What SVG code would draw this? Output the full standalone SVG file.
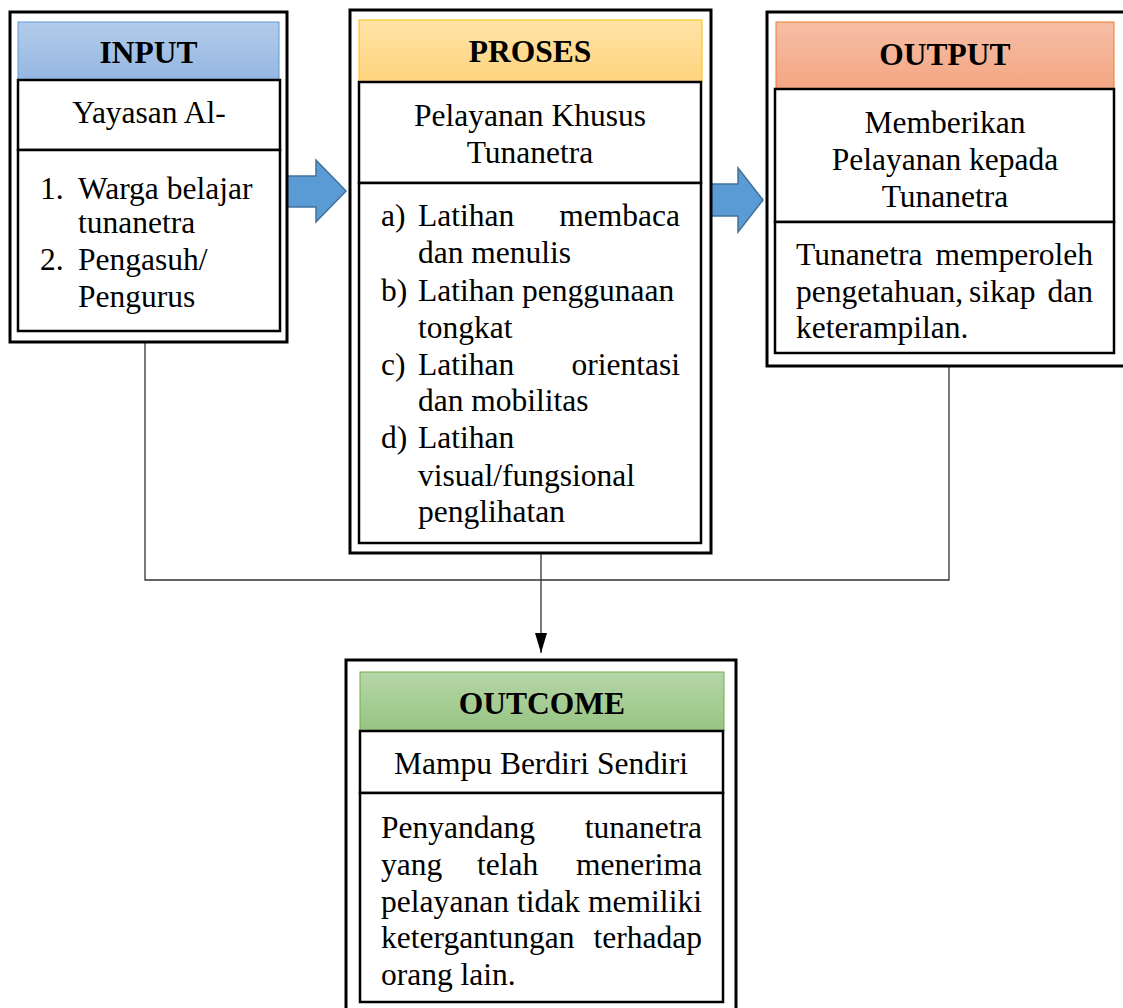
<svg xmlns="http://www.w3.org/2000/svg" width="1123" height="1008" viewBox="0 0 1123 1008">
<style>
.outer{fill:#fff;stroke:#000;stroke-width:3}
.cell{fill:#fff;stroke:#000;stroke-width:2.5}
.t{font-family:"Liberation Serif","Times New Roman",serif;font-size:31.5px;fill:#000}
.h{font-family:"Liberation Serif","Times New Roman",serif;font-size:31.5px;font-weight:bold;fill:#000;text-anchor:middle}
.c{text-anchor:middle}
.e{text-anchor:end}
.conn{fill:none;stroke:#333;stroke-width:1.3}
.barrow{fill:#5B9BD5;stroke:#41719C;stroke-width:1.5}
</style>
<defs>
<linearGradient id="gIn" x1="0" y1="0" x2="0" y2="1"><stop offset="0" stop-color="#B3CBEA"/><stop offset="1" stop-color="#95B7E2"/></linearGradient>
<linearGradient id="gPr" x1="0" y1="0" x2="0" y2="1"><stop offset="0" stop-color="#FFE3A6"/><stop offset="1" stop-color="#FFD47D"/></linearGradient>
<linearGradient id="gOut" x1="0" y1="0" x2="0" y2="1"><stop offset="0" stop-color="#F6BEA6"/><stop offset="1" stop-color="#F4A683"/></linearGradient>
<linearGradient id="gOc" x1="0" y1="0" x2="0" y2="1"><stop offset="0" stop-color="#B6D6A8"/><stop offset="1" stop-color="#96C483"/></linearGradient>
<marker id="ah" markerWidth="20" markerHeight="12" refX="20" refY="6" orient="auto" markerUnits="userSpaceOnUse" viewBox="0 0 20 12"><path d="M0,0 L20,6 L0,12 Z" fill="#000"/></marker>
</defs>

<g id="connectors">
<polyline class="conn" points="145,342 145,580 949,580 949,366"/>
<line class="conn" x1="541" y1="553" x2="541" y2="653" marker-end="url(#ah)"/>
<polygon class="barrow" points="287,176 316,176 316,160 346,191 316,222 316,207 287,207"/>
<polygon class="barrow" points="711,184 738,184 738,168 763,200 738,232 738,216 711,216"/>
</g>

<g id="input">
<rect class="outer" x="10" y="12" width="277" height="330"/>
<rect x="18" y="22" width="261" height="58" fill="url(#gIn)" stroke="#5B9BD5" stroke-width="1"/>
<text class="h" x="148.5" y="63">INPUT</text>
<rect class="cell" x="18" y="80" width="262" height="70"/>
<text class="t c" x="149" y="123">Yayasan Al-</text>
<rect class="cell" x="18" y="150" width="262" height="181"/>
<text class="t" x="40" y="199">1.</text>
<text class="t" x="78" y="199">Warga belajar</text>
<text class="t" x="78" y="233">tunanetra</text>
<text class="t" x="40" y="270">2.</text>
<text class="t" x="78" y="270">Pengasuh/</text>
<text class="t" x="78" y="307">Pengurus</text>
</g>

<g id="proses">
<rect class="outer" x="350" y="10" width="361" height="543"/>
<rect x="359" y="20" width="343" height="62" fill="url(#gPr)" stroke="#FFC000" stroke-width="1"/>
<text class="h" x="530" y="62">PROSES</text>
<rect class="cell" x="359" y="82" width="342" height="101"/>
<text class="t c" x="530" y="126">Pelayanan Khusus</text>
<text class="t c" x="530" y="163">Tunanetra</text>
<rect class="cell" x="359" y="183" width="342" height="360"/>
<text class="t" x="381" y="226">a)</text>
<text class="t" x="418" y="226">Latihan</text>
<text class="t e" x="680" y="226">membaca</text>
<text class="t" x="418" y="263">dan menulis</text>
<text class="t" x="381" y="301">b)</text>
<text class="t" x="418" y="301">Latihan penggunaan</text>
<text class="t" x="418" y="338">tongkat</text>
<text class="t" x="381" y="375">c)</text>
<text class="t" x="418" y="375">Latihan</text>
<text class="t e" x="680" y="375">orientasi</text>
<text class="t" x="418" y="411">dan mobilitas</text>
<text class="t" x="381" y="448">d)</text>
<text class="t" x="418" y="448">Latihan</text>
<text class="t" x="418" y="486">visual/fungsional</text>
<text class="t" x="418" y="522">penglihatan</text>
</g>

<g id="output">
<rect class="outer" x="767" y="12" width="362" height="354"/>
<rect x="776" y="22" width="338" height="67" fill="url(#gOut)" stroke="#ED7D31" stroke-width="1"/>
<text class="h" x="945" y="65">OUTPUT</text>
<rect class="cell" x="775" y="89" width="339" height="133"/>
<text class="t c" x="945" y="133">Memberikan</text>
<text class="t c" x="945" y="170">Pelayanan kepada</text>
<text class="t c" x="945" y="207">Tunanetra</text>
<rect class="cell" x="775" y="222" width="339" height="131"/>
<text class="t" x="796" y="265">Tunanetra</text>
<text class="t e" x="1093" y="265">memperoleh</text>
<text class="t" x="796" y="302">pengetahuan,</text>
<text class="t" x="969" y="302">sikap</text>
<text class="t e" x="1093" y="302">dan</text>
<text class="t" x="796" y="338">keterampilan.</text>
</g>

<g id="outcome">
<rect class="outer" x="346" y="660" width="390" height="352"/>
<rect x="360" y="672" width="364" height="59" fill="url(#gOc)" stroke="#70AD47" stroke-width="1"/>
<text class="h" x="542" y="714">OUTCOME</text>
<rect class="cell" x="360" y="731" width="363" height="62"/>
<text class="t c" x="541" y="774">Mampu Berdiri Sendiri</text>
<rect class="cell" x="360" y="793" width="363" height="209"/>
<text class="t" x="381" y="838">Penyandang</text>
<text class="t e" x="702" y="838">tunanetra</text>
<text class="t" x="381" y="875">yang</text>
<text class="t" x="477" y="875">telah</text>
<text class="t e" x="702" y="875">menerima</text>
<text class="t" x="381" y="912" textLength="321" lengthAdjust="spacing">pelayanan tidak memiliki</text>
<text class="t" x="381" y="948">ketergantungan</text>
<text class="t e" x="702" y="948">terhadap</text>
<text class="t" x="381" y="985">orang lain.</text>
</g>
</svg>
